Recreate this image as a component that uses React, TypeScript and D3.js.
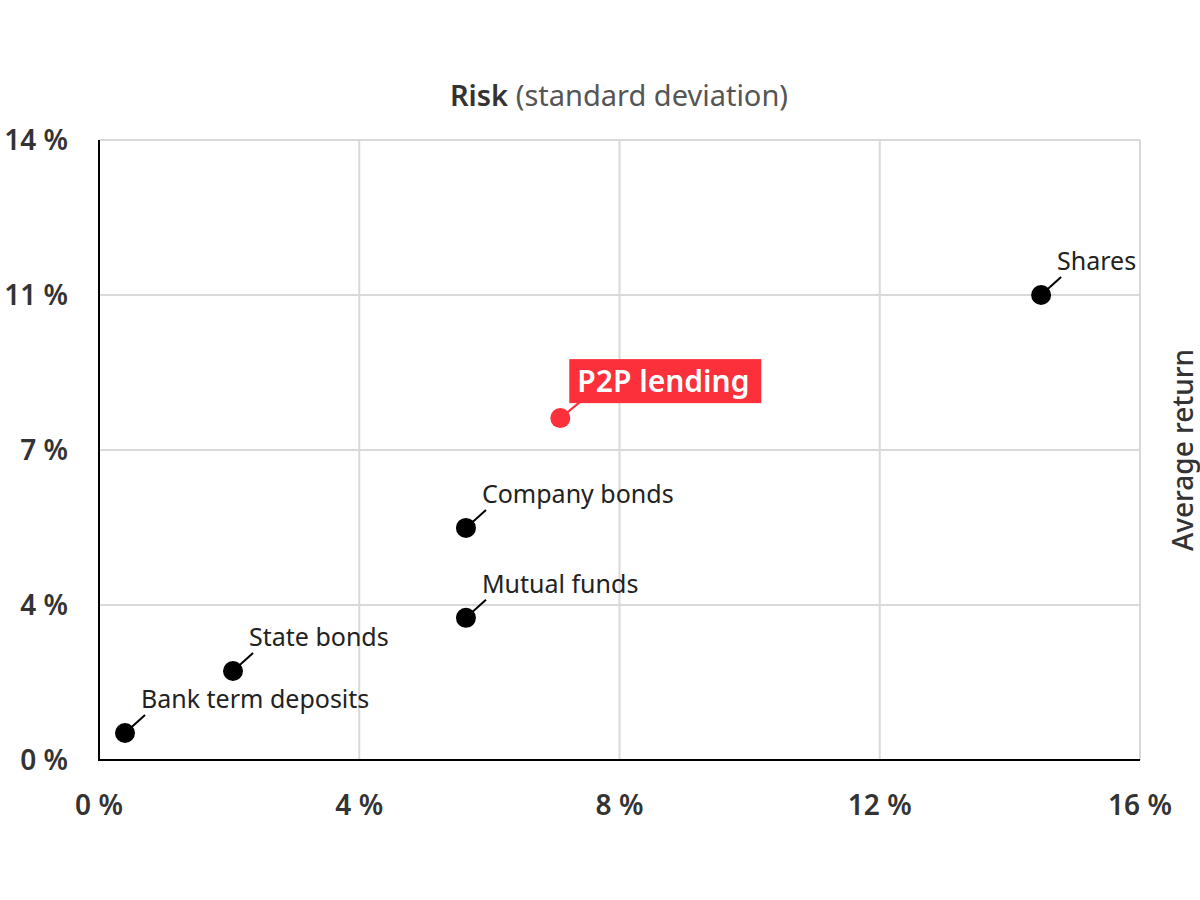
import React from "react"
import * as d3 from "d3"

const names = ["Bank term deposits", "State bonds", "Mutual funds", "Company bonds", "P2P lending", "Shares"]
const risk = [0.4, 2.06, 5.64, 5.64, 7.09, 14.48]
const avgReturn = [0.61, 2.01, 3.21, 5.24, 7.72, 10.5]
const highlight = [false, false, false, false, true, false]

const xTicks = [0, 4, 8, 12, 16]
const yTicks = [0, 3.5, 7, 10.5, 14]

const W = 1200
const H = 900
const margin = { top: 140, right: 60, bottom: 140, left: 99 }
const font = "'Noto Sans', sans-serif"
const red = "#fb303b"

export default function App() {
    const x = d3.scaleLinear().domain([0, 16]).range([margin.left, W - margin.right])
    const y = d3.scaleLinear().domain([0, 14]).range([H - margin.bottom, margin.top])
    const fmt = (v: number) => Math.round(v) + " %"

    const points = names.map((n, i) => ({ name: n, cx: x(risk[i]), cy: y(avgReturn[i]), hi: highlight[i] }))

    return (
        <svg width={W} height={H} style={{ position: "absolute", left: 0, top: 0, fontFamily: font }}>
            <rect width={W} height={H} fill="#fff" />
            {/* grid */}
            {xTicks.slice(1).map(t => (
                <line key={"gx" + t} x1={x(t)} x2={x(t)} y1={y(14)} y2={y(0)} stroke="#d9d9d9" strokeWidth={2} />
            ))}
            {yTicks.slice(1).map(t => (
                <line key={"gy" + t} x1={x(0)} x2={x(16)} y1={y(t)} y2={y(t)} stroke="#d9d9d9" strokeWidth={2} />
            ))}
            {/* axes */}
            <line x1={x(0)} x2={x(0)} y1={y(14)} y2={y(0) + 1} stroke="#000" strokeWidth={2} />
            <line x1={x(0) - 1} x2={x(16)} y1={y(0)} y2={y(0)} stroke="#000" strokeWidth={2} />
            {yTicks.map(t => (
                <text key={"ty" + t} x={68} y={y(t) + 10} textAnchor="end" fontSize={28} fontWeight={600} fill="#333">
                    {fmt(t)}
                </text>
            ))}
            {xTicks.map(t => (
                <text key={"tx" + t} x={x(t)} y={815} textAnchor="middle" fontSize={28} fontWeight={600} fill="#333">
                    {fmt(t)}
                </text>
            ))}
            <text x={619} y={106} textAnchor="middle" fontSize={29} fill="#333">
                <tspan fontWeight={600}>Risk</tspan>
                <tspan fill="#555"> (standard deviation)</tspan>
            </text>
            <text transform={`translate(1193,450) rotate(-90)`} textAnchor="middle" fontSize={28} fontWeight={500} fill="#333">
                Average return
            </text>
            {/* points */}
            {points.map(p =>
                p.hi ? (
                    <g key={p.name}>
                        <line x1={p.cx} y1={p.cy} x2={p.cx + 22} y2={p.cy - 18} stroke={red} strokeWidth={2} />
                        <rect x={p.cx + 9} y={p.cy - 59} width={192} height={44} fill={red} />
                        <text x={p.cx + 17} y={p.cy - 26} fontSize={30} fontWeight={600} fill="#fff">
                            {p.name}
                        </text>
                        <circle cx={p.cx} cy={p.cy} r={10} fill={red} />
                    </g>
                ) : (
                    <g key={p.name}>
                        <line x1={p.cx} y1={p.cy} x2={p.cx + 20} y2={p.cy - 18} stroke="#000" strokeWidth={2} />
                        <circle cx={p.cx} cy={p.cy} r={10} fill="#000" />
                        <text x={p.cx + 16} y={p.cy - 25} fontSize={25} fill="#222">
                            {p.name}
                        </text>
                    </g>
                )
            )}
        </svg>
    )
}
